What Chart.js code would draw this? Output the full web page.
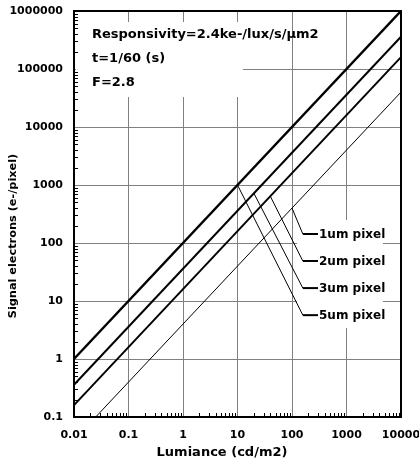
<!DOCTYPE html>
<html>
<head>
<meta charset="utf-8">
<script src="https://cdn.jsdelivr.net/npm/chart.js@4"></script>
<style>
  html, body { margin: 0; padding: 0; background: #fff; }
  canvas { display: block; }
</style>
</head>
<body>
<canvas id="sensorChart" width="419" height="464"></canvas>
<script>
// luminance range covered by the lines (cd/m2)
const lumEnds = [0.01, 10000];

// signal electrons at both ends, per pixel size
const signal1um = [0.04, 40000];
const signal2um = [0.16, 160000];
const signal3um = [0.36, 360000];
const signal5um = [1, 1000000];

const pixelLabels = ['1um pixel', '2um pixel', '3um pixel', '5um pixel'];

const xTicks = [0.01, 0.1, 1, 10, 100, 1000, 10000];
const yTicks = [0.1, 1, 10, 100, 1000, 10000, 100000, 1000000];

// callouts: point on each line -> label (data coords)
const calloutLum = [100, 40, 20, 10];
const calloutSig = [400, 640, 720, 1000];
const labelSig = [143, 49, 16.7, 5.7];
const labelLumStart = 158;
const labelLumEnd = 300;

const noteLines = ['Responsivity=2.4ke-/lux/s/\u00b5m2', 't=1/60 (s)', 'F=2.8'];
const xTitle = 'Lumiance (cd/m2)';
const yTitle = 'Signal electrons (e-/pixel)';

const FONT = '"DejaVu Sans", Verdana, sans-serif';

function lineData(sig) {
    return lumEnds.map((x, i) => ({ x: x, y: sig[i] }));
}

const datasets = [
    { data: lineData(signal1um), borderWidth: 1 },
    { data: lineData(signal2um), borderWidth: 2 },
    { data: lineData(signal3um), borderWidth: 2 },
    { data: lineData(signal5um), borderWidth: 2.4 }
];

// leader lines for the labels
pixelLabels.forEach((name, i) => {
    datasets.push({
        data: [
            { x: calloutLum[i], y: calloutSig[i] },
            { x: labelLumStart, y: labelSig[i] }
        ],
        borderWidth: 1
    });
    datasets.push({
        data: [
            { x: labelLumStart, y: labelSig[i] },
            { x: labelLumEnd, y: labelSig[i] }
        ],
        borderWidth: 2
    });
});

datasets.forEach(d => {
    d.borderColor = '#000';
    d.pointRadius = 0;
    d.fill = false;
    d.tension = 0;
});

const minors = [2, 3, 4, 5, 6, 7, 8, 9];

const decorPlugin = {
    id: 'decor',
    beforeDatasetsDraw(chart) {
        const ctx = chart.ctx;
        const a = chart.chartArea;
        const xs = chart.scales.x, ys = chart.scales.y;
        ctx.save();
        ctx.fillStyle = '#fff';
        // white box behind the note text
        ctx.fillRect(a.left + 2, a.top + 11, 167, 75);
        // white box behind the labels
        const bx = xs.getPixelForValue(labelLumEnd) - 21;
        const by = ys.getPixelForValue(labelSig[0]) - 14;
        ctx.fillRect(bx, by, 86, 108);
        ctx.restore();
    },
    afterDraw(chart) {
        const ctx = chart.ctx;
        const a = chart.chartArea;
        const xs = chart.scales.x, ys = chart.scales.y;
        ctx.save();
        // minor ticks, left and bottom, pointing inward
        ctx.strokeStyle = '#000';
        ctx.lineWidth = 1;
        ctx.beginPath();
        for (let i = 0; i < yTicks.length - 1; i++) {
            minors.forEach(m => {
                const py = Math.round(ys.getPixelForValue(yTicks[i] * m)) + 0.5;
                ctx.moveTo(a.left, py);
                ctx.lineTo(a.left + 4, py);
            });
        }
        for (let i = 0; i < xTicks.length - 1; i++) {
            minors.forEach(m => {
                const px = Math.round(xs.getPixelForValue(xTicks[i] * m)) + 0.5;
                ctx.moveTo(px, a.bottom);
                ctx.lineTo(px, a.bottom - 4);
            });
        }
        ctx.stroke();
        // frame
        ctx.lineWidth = 2;
        ctx.strokeRect(a.left, a.top, a.right - a.left, a.bottom - a.top);

        // note text
        ctx.fillStyle = '#000';
        ctx.font = 'bold 13px ' + FONT;
        ctx.textBaseline = 'middle';
        ctx.textAlign = 'left';
        noteLines.forEach((t, i) => {
            ctx.fillText(t, a.left + 18, a.top + 24 + i * 24);
        });

        // pixel labels
        ctx.font = 'bold 12px ' + FONT;
        pixelLabels.forEach((t, i) => {
            ctx.fillText(t, xs.getPixelForValue(labelLumEnd) + 1, ys.getPixelForValue(labelSig[i]) + 1);
        });

        // axis titles
        ctx.textAlign = 'center';
        ctx.font = 'bold 13px ' + FONT;
        ctx.fillText(xTitle, 222, 453);
        ctx.translate(13, 236);
        ctx.rotate(-Math.PI / 2);
        ctx.font = 'bold 11.3px ' + FONT;
        ctx.fillText(yTitle, 0, 0);
        ctx.restore();
    }
};

new Chart(document.getElementById('sensorChart'), {
    type: 'line',
    data: { datasets: datasets },
    options: {
        responsive: false,
        animation: false,
        events: [],
        layout: { padding: { top: 11, right: 18, left: 0, bottom: 0 } },
        plugins: { legend: { display: false }, tooltip: { enabled: false } },
        scales: {
            x: {
                type: 'logarithmic',
                min: 0.01,
                max: 10000,
                afterBuildTicks: s => { s.ticks = xTicks.map(v => ({ value: v })); },
                afterFit: s => { s.height = 47; s.paddingLeft = 0; s.paddingRight = 0; },
                grid: { color: '#808080', lineWidth: 1, drawTicks: false },
                border: { display: true, color: '#000', width: 2 },
                ticks: {
                    color: '#000',
                    padding: 12,
                    maxRotation: 0,
                    font: { family: FONT, size: 11, weight: 'bold' },
                    callback: v => String(v)
                }
            },
            y: {
                type: 'logarithmic',
                min: 0.1,
                max: 1000000,
                afterBuildTicks: s => { s.ticks = yTicks.map(v => ({ value: v })); },
                afterFit: s => { s.width = 74; s.paddingTop = 0; s.paddingBottom = 0; },
                grid: { color: '#808080', lineWidth: 1, drawTicks: false },
                border: { display: true, color: '#000', width: 2 },
                ticks: {
                    color: '#000',
                    padding: 11,
                    font: { family: FONT, size: 11, weight: 'bold' },
                    callback: v => String(v)
                }
            }
        }
    },
    plugins: [decorPlugin]
});
</script>
</body>
</html>
